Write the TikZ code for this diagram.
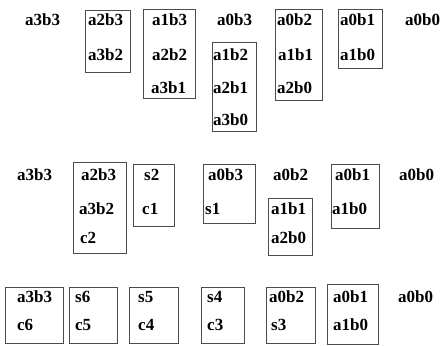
\documentclass[tikz,border=0pt]{standalone}
\usepackage{fontspec}
\setmainfont{Liberation Serif}
\tikzset{
  term/.style={anchor=west,inner sep=0pt,font=\bfseries\fontsize{17}{19}\selectfont},
  grp/.style={draw=black!70,line width=.9pt}
}
\begin{document}
\begin{tikzpicture}[x=1pt,y=-1pt]
\path[use as bounding box] (0,0) rectangle (443,345);
% first row
\node[term] (ra1) at (25,20) {a3b3};
\draw[grp] (85,10) rectangle (130,72);
\node[term] (ra2) at (88,20) {a2b3};
\node[term] (ra3) at (88,55) {a3b2};
\draw[grp] (143,9) rectangle (195,98);
\node[term] (ra4) at (152,20) {a1b3};
\node[term] (ra5) at (152,55) {a2b2};
\node[term] (ra6) at (151,88) {a3b1};
\node[term] (ra7) at (217,20) {a0b3};
\draw[grp] (212,42) rectangle (256,131);
\node[term] (ra8) at (213,55) {a1b2};
\node[term] (ra9) at (213,88) {a2b1};
\node[term] (ra10) at (213,120) {a3b0};
\draw[grp] (275,9) rectangle (322,100);
\node[term] (ra11) at (277,20) {a0b2};
\node[term] (ra12) at (278,55) {a1b1};
\node[term] (ra13) at (277,88) {a2b0};
\draw[grp] (338,9) rectangle (382,68);
\node[term] (ra14) at (340,20) {a0b1};
\node[term] (ra15) at (340,55) {a1b0};
\node[term] (ra16) at (405,20) {a0b0};
% second row
\node[term] (rb1) at (17,175) {a3b3};
\draw[grp] (73,162) rectangle (126,253);
\node[term] (rb2) at (81,175) {a2b3};
\node[term] (rb3) at (79,209) {a3b2};
\node[term] (rb4) at (80,238) {c2};
\draw[grp] (133,164) rectangle (174,226);
\node[term] (rb5) at (144,175) {s2};
\node[term] (rb6) at (142,209) {c1};
\draw[grp] (203,164) rectangle (255,223);
\node[term] (rb7) at (208,175) {a0b3};
\node[term] (rb8) at (205,209) {s1};
\node[term] (rb9) at (273,175) {a0b2};
\draw[grp] (268,198) rectangle (312,255);
\node[term] (rb10) at (271,209) {a1b1};
\node[term] (rb11) at (271,238) {a2b0};
\draw[grp] (331,164) rectangle (379,228);
\node[term] (rb12) at (335,175) {a0b1};
\node[term] (rb13) at (332,209) {a1b0};
\node[term] (rb14) at (399,175) {a0b0};
% third row
\draw[grp] (5,287) rectangle (63,343);
\node[term] (rc1) at (17,297) {a3b3};
\node[term] (rc2) at (17,325) {c6};
\draw[grp] (69,287) rectangle (117,343);
\node[term] (rc3) at (75,297) {s6};
\node[term] (rc4) at (75,325) {c5};
\draw[grp] (129,287) rectangle (178,343);
\node[term] (rc5) at (138,297) {s5};
\node[term] (rc6) at (138,325) {c4};
\draw[grp] (201,287) rectangle (244,343);
\node[term] (rc7) at (207,297) {s4};
\node[term] (rc8) at (207,325) {c3};
\draw[grp] (266,287) rectangle (315,343);
\node[term] (rc9) at (269,297) {a0b2};
\node[term] (rc10) at (271,325) {s3};
\draw[grp] (327,284) rectangle (378,344);
\node[term] (rc11) at (333,297) {a0b1};
\node[term] (rc12) at (333,325) {a1b0};
\node[term] (rc13) at (398,297) {a0b0};
\end{tikzpicture}
\end{document}
